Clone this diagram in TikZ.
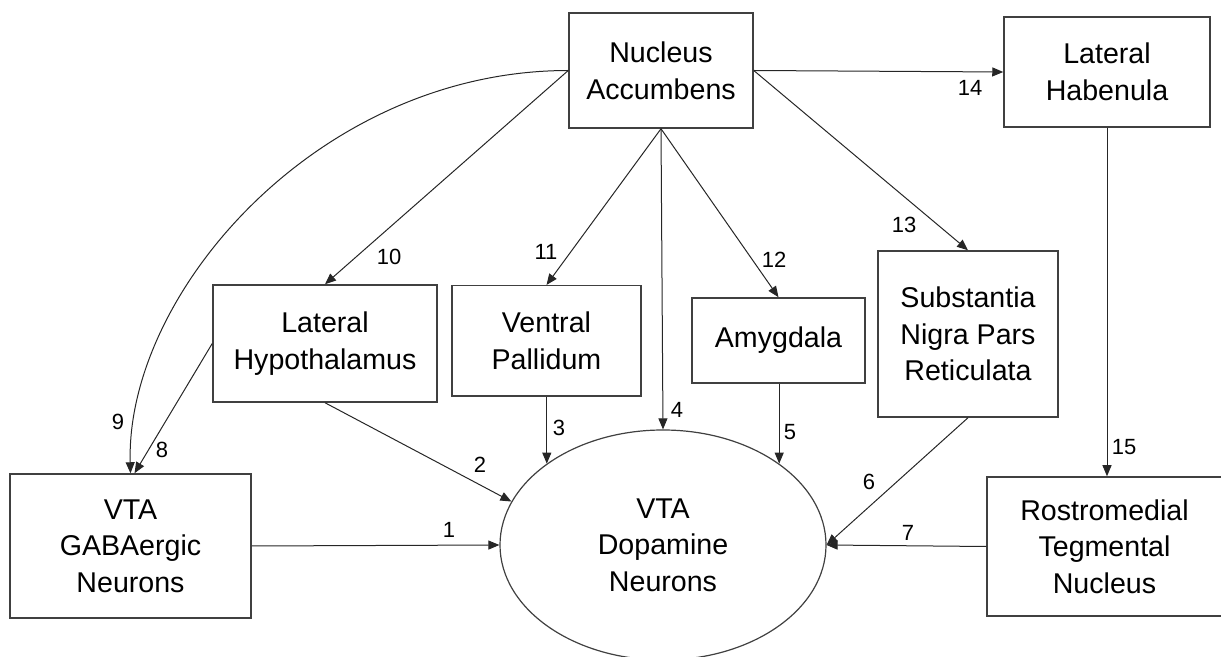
\documentclass[tikz,border=0pt]{standalone}
\usepackage{fontspec}
\setmainfont{Liberation Sans}
\usetikzlibrary{arrows.meta, shapes.geometric}

\begin{document}
\begin{tikzpicture}[
  x=0.5pt, y=-0.5pt,
  font=\fontsize{14.3}{18.3}\selectfont,
  block/.style={draw=black!75, line width=0.75pt, align=center, inner sep=0pt},
  cell/.style={draw=black!75, line width=0.6pt, ellipse, align=center, inner sep=0pt},
  arr/.style={-{Triangle[length=5.5pt, width=4.5pt]}, black!85, line width=0.5pt},
  num/.style={font=\fontsize{11}{13}\selectfont, inner sep=0pt}
]
\useasboundingbox (0,0) rectangle (1221,657);

% --- Linha superior ---
\node[block, minimum width=92pt, minimum height=57.5pt] (na) at (661,70.5) {Nucleus\\ Accumbens};
\node[block, minimum width=103pt, minimum height=55pt] (lhb) at (1107,72) {Lateral\\ Habenula};

% --- Linha do meio ---
\node[block, minimum width=112pt, minimum height=58.5pt] (lh) at (325,343.5) {Lateral\\ Hypothalamus};
\node[block, minimum width=94.5pt, minimum height=55.25pt] (vp) at (546.5,341) {Ventral\\ Pallidum};
\node[block, minimum width=86.5pt, minimum height=42.5pt] (amy) at (778.5,340.5) {Amygdala};
\node[block, minimum width=90pt, minimum height=83pt] (snr) at (968,334) {Substantia\\ Nigra Pars\\ Reticulata};

% --- Linha inferior ---
\node[block, minimum width=120.5pt, minimum height=72pt] (gaba) at (130.5,546) {VTA\\ GABAergic\\ Neurons};
\node[cell, minimum width=163pt, minimum height=115pt] (vta) at (663,545) {VTA\\ Dopamine\\ Neurons};
\node[block, minimum width=117.5pt, minimum height=69.5pt] (rmtg) at (1104.5,546.5) {Rostromedial\\ Tegmental\\ Nucleus};

% --- Conexões para o VTA ---
\draw[arr] (gaba.east) -- (vta.west);
\draw[arr] (lh.south) -- (vta.164);
\draw[arr] (vta.145 |- vp.south) -- (vta.145);
\draw[arr] (na.south) -- (vta.north);
\draw[arr] (vta.35 |- amy.south) -- (vta.35);
\draw[arr] (snr.south) -- (vta.east);
\draw[arr] (rmtg.west) -- (vta.east);

% --- Conexões do Nucleus Accumbens ---
\draw[arr] (lh.west) -- ([xshift=2pt]gaba.north);
\draw[arr] (na.west) .. controls +(-250,0) and +(-5,-180) .. (gaba.north);
\draw[arr] (na.west) -- (lh.north);
\draw[arr] (na.south) -- (vp.north);
\draw[arr] (na.south) -- (amy.north);
\draw[arr] (na.east) -- (snr.north);
\draw[arr] (na.east) -- (lhb.west);
\draw[arr] (lhb.south) -- (lhb.south |- rmtg.north);

% --- Rótulos ---
\node[num] (l1) at (449,530) {1};
\node[num] (l2) at (480,465) {2};
\node[num] (l3) at (559,428) {3};
\node[num] (l4) at (677,410) {4};
\node[num] (l5) at (790,432) {5};
\node[num] (l6) at (869,482) {6};
\node[num] (l7) at (908,533) {7};
\node[num] (l8) at (162,450) {8};
\node[num] (l9) at (118,422) {9};
\node[num] (l10) at (389,257) {10};
\node[num] (l11) at (546,252) {11};
\node[num] (l12) at (774,260) {12};
\node[num] (l13) at (904,225) {13};
\node[num] (l14) at (970,88) {14};
\node[num] (l15) at (1124,447) {15};

\end{tikzpicture}
\end{document}
